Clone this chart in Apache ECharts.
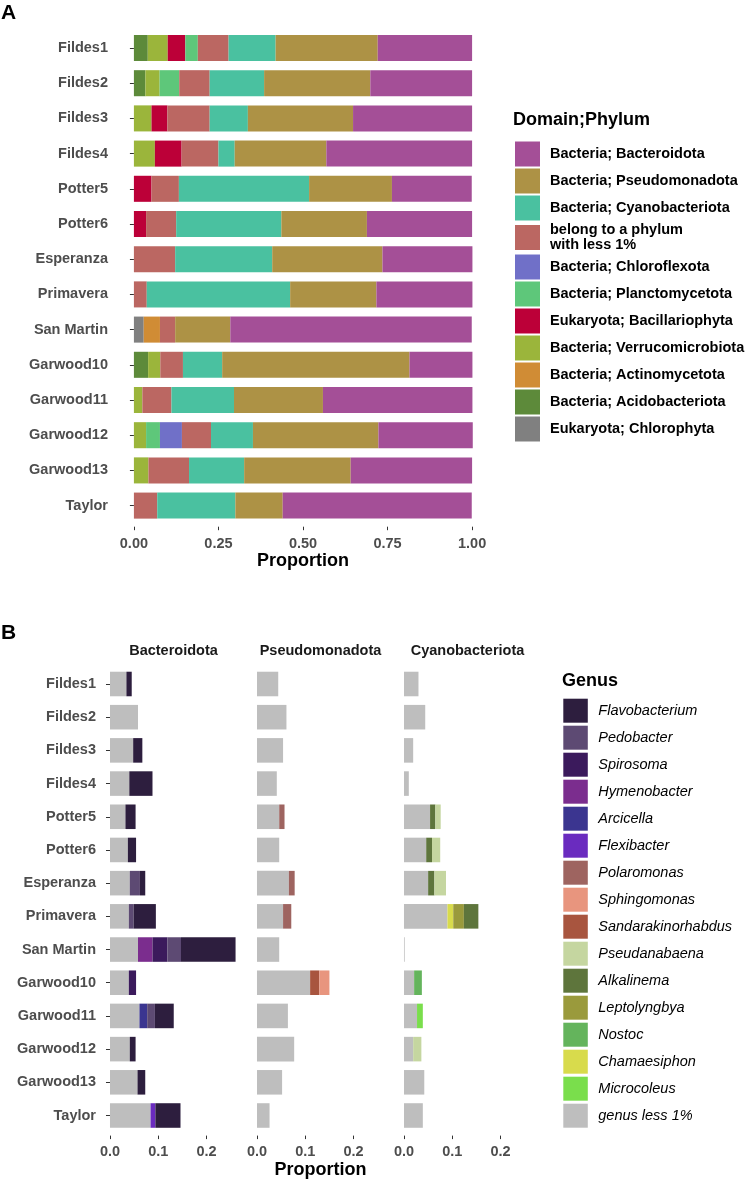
<!DOCTYPE html>
<html>
<head>
<meta charset="utf-8">
<script src="https://cdn.jsdelivr.net/npm/echarts@6/dist/echarts.min.js"></script>
<style>
html, body { margin: 0; padding: 0; background: #fff; }
#chart { width: 751px; height: 1181px; }
</style>
</head>
<body>
<div id="chart"></div>
<script>
const sites = ['Fildes1', 'Fildes2', 'Fildes3', 'Fildes4', 'Potter5', 'Potter6', 'Esperanza', 'Primavera', 'San Martin', 'Garwood10', 'Garwood11', 'Garwood12', 'Garwood13', 'Taylor']

// panel A (legend order, top to bottom)
const phyla = ['Bacteria; Bacteroidota', 'Bacteria; Pseudomonadota', 'Bacteria; Cyanobacteriota', 'belong to a phylum\nwith less 1%', 'Bacteria; Chloroflexota', 'Bacteria; Planctomycetota', 'Eukaryota; Bacillariophyta', 'Bacteria; Verrucomicrobiota', 'Bacteria; Actinomycetota', 'Bacteria; Acidobacteriota', 'Eukaryota; Chlorophyta']
const phylumColors = ['#a44f97', '#ad9245', '#4ac1a0', '#bb6762', '#7070c8', '#5ec77a', '#bc0038', '#9bb53b', '#d08c35', '#5d8a3a', '#808080']

const bacteroidota = [0.279, 0.301, 0.352, 0.431, 0.236, 0.311, 0.266, 0.284, 0.714, 0.186, 0.442, 0.279, 0.359, 0.559]
const pseudomonadota = [0.302, 0.314, 0.311, 0.271, 0.245, 0.253, 0.326, 0.255, 0.163, 0.554, 0.263, 0.371, 0.315, 0.140]
const cyanobacteriota = [0.139, 0.161, 0.113, 0.048, 0.385, 0.311, 0.287, 0.424, 0, 0.116, 0.185, 0.124, 0.163, 0.231]
const phylumLess1 = [0.091, 0.090, 0.125, 0.109, 0.081, 0.089, 0.122, 0.038, 0.045, 0.067, 0.086, 0.086, 0.120, 0.069]
const chloroflexota = [0, 0, 0, 0, 0, 0, 0, 0, 0, 0, 0, 0.065, 0, 0]
const planctomycetota = [0.037, 0.058, 0, 0, 0, 0, 0, 0, 0, 0, 0, 0.041, 0, 0]
const bacillariophyta = [0.052, 0, 0.047, 0.079, 0.052, 0.036, 0, 0, 0, 0, 0, 0, 0, 0]
const verrucomicrobiota = [0.059, 0.042, 0.052, 0.062, 0, 0, 0, 0, 0, 0.036, 0.025, 0.036, 0.043, 0]
const actinomycetota = [0, 0, 0, 0, 0, 0, 0, 0, 0.048, 0, 0, 0, 0, 0]
const acidobacteriota = [0.041, 0.034, 0, 0, 0, 0, 0, 0, 0, 0.042, 0, 0, 0, 0]
const chlorophyta = [0, 0, 0, 0, 0, 0, 0, 0, 0.029, 0, 0, 0, 0, 0]
const phylumData = [bacteroidota, pseudomonadota, cyanobacteriota, phylumLess1, chloroflexota, planctomycetota, bacillariophyta, verrucomicrobiota, actinomycetota, acidobacteriota, chlorophyta]

// panel B
const facets = ['Bacteroidota', 'Pseudomonadota', 'Cyanobacteriota']
const genera = ['Flavobacterium', 'Pedobacter', 'Spirosoma', 'Hymenobacter', 'Arcicella', 'Flexibacter', 'Polaromonas', 'Sphingomonas', 'Sandarakinorhabdus', 'Pseudanabaena', 'Alkalinema', 'Leptolyngbya', 'Nostoc', 'Chamaesiphon', 'Microcoleus', 'genus less 1%']
const genusColors = ['#2d1e3e', '#5d4a73', '#3b1a5c', '#7b2d8e', '#3b3590', '#6a2bbf', '#9e6460', '#e8957e', '#a8553f', '#c5d6a0', '#5e753c', '#9a9a3c', '#64b45c', '#d8db4c', '#7ade4c', '#bebebe']

const flavobacterium = [0.011, 0, 0.019, 0.048, 0.021, 0.017, 0.011, 0.046, 0.113, 0, 0.039, 0.012, 0.016, 0.052]
const pedobacter = [0, 0, 0, 0, 0, 0, 0.021, 0.010, 0.028, 0, 0.016, 0, 0, 0]
const spirosoma = [0, 0, 0, 0, 0, 0, 0, 0, 0.031, 0.015, 0, 0, 0, 0]
const hymenobacter = [0, 0, 0, 0, 0, 0, 0, 0, 0.030, 0, 0, 0, 0, 0]
const arcicella = [0, 0, 0, 0, 0, 0, 0, 0, 0, 0, 0.016, 0, 0, 0]
const flexibacter = [0, 0, 0, 0, 0, 0, 0, 0, 0, 0, 0, 0, 0, 0.010]
const polaromonas = [0, 0, 0, 0, 0.011, 0, 0.012, 0.017, 0, 0, 0, 0, 0, 0]
const sphingomonas = [0, 0, 0, 0, 0, 0, 0, 0, 0, 0.021, 0, 0, 0, 0]
const sandarakinorhabdus = [0, 0, 0, 0, 0, 0, 0, 0, 0, 0.019, 0, 0, 0, 0]
const pseudanabaena = [0, 0, 0, 0, 0.011, 0.017, 0.024, 0, 0, 0, 0, 0.017, 0, 0]
const alkalinema = [0, 0, 0, 0, 0.011, 0.012, 0.013, 0.030, 0, 0, 0, 0, 0, 0]
const leptolyngbya = [0, 0, 0, 0, 0, 0, 0, 0.022, 0, 0, 0, 0, 0, 0]
const nostoc = [0, 0, 0, 0, 0, 0, 0, 0, 0, 0.016, 0, 0, 0, 0]
const chamaesiphon = [0, 0, 0, 0, 0, 0, 0, 0.012, 0, 0, 0, 0, 0, 0]
const microcoleus = [0, 0, 0, 0, 0, 0, 0, 0, 0, 0, 0.012, 0, 0, 0]
const bacGenusLess1 = [0.034, 0.058, 0.048, 0.040, 0.032, 0.037, 0.041, 0.039, 0.058, 0.039, 0.061, 0.041, 0.057, 0.084]
const pseGenusLess1 = [0.044, 0.061, 0.054, 0.041, 0.046, 0.046, 0.066, 0.054, 0.046, 0.110, 0.064, 0.077, 0.052, 0.026]
const cyaGenusLess1 = [0.030, 0.044, 0.019, 0.010, 0.054, 0.046, 0.050, 0.090, 0.0015, 0.021, 0.027, 0.019, 0.042, 0.039]

const genusData = [flavobacterium, pedobacter, spirosoma, hymenobacter, arcicella, flexibacter, polaromonas, sphingomonas, sandarakinorhabdus, pseudanabaena, alkalinema, leptolyngbya, nostoc, chamaesiphon, microcoleus]
const genusFacet = [0, 0, 0, 0, 0, 0, 1, 1, 1, 2, 2, 2, 2, 2, 2]
const genusLess1 = [bacGenusLess1, pseGenusLess1, cyaGenusLess1]

const font = 'Liberation Sans, Arial, sans-serif'
const facetLeft = [104, 251, 398]
const facetWidth = 139

const myChart = echarts.init(document.getElementById('chart'))

const grid = [{ left: 117, top: 30.4, width: 372, height: 492.8 }]
facetLeft.forEach(l => grid.push({ left: l, top: 667.4, width: facetWidth, height: 464.7 }))

const axisLabelStyle = { fontFamily: font, fontWeight: 'bold', fontSize: 14.5, color: '#4d4d4d' }

const xAxis = [{
  type: 'value', gridIndex: 0, min: -0.05, max: 1.05, offset: 3.5,
  axisLine: { show: false }, splitLine: { show: false },
  axisTick: { show: true, length: 3.5, lineStyle: { color: '#333' }, customValues: [0, 0.25, 0.5, 0.75, 1] },
  axisLabel: Object.assign({ margin: 9.5, customValues: [0, 0.25, 0.5, 0.75, 1], formatter: v => v.toFixed(2) }, axisLabelStyle),
  name: 'Proportion', nameLocation: 'middle', nameGap: 25,
  nameTextStyle: { fontFamily: font, fontWeight: 'bold', fontSize: 18, color: '#000' }
}]
const yAxis = [{
  type: 'category', gridIndex: 0, data: sites, inverse: true,
  axisLine: { show: false },
  axisTick: { show: true, length: 4, alignWithLabel: true, lineStyle: { color: '#333' } },
  axisLabel: Object.assign({ margin: 9, interval: 0 }, axisLabelStyle)
}]
for (let f = 0; f < 3; f++) {
  xAxis.push({
    type: 'value', gridIndex: f + 1, min: -0.0124, max: 0.2754, offset: 3.5,
    axisLine: { show: false }, splitLine: { show: false },
    axisTick: { show: true, length: 3.5, lineStyle: { color: '#333' }, customValues: [0, 0.1, 0.2] },
    axisLabel: Object.assign({ margin: 9, customValues: [0, 0.1, 0.2], formatter: v => v.toFixed(1) }, axisLabelStyle),
    name: f === 1 ? 'Proportion' : '', nameLocation: 'middle', nameGap: 25.5,
    nameTextStyle: { fontFamily: font, fontWeight: 'bold', fontSize: 18, color: '#000' }
  })
  yAxis.push({
    type: 'category', gridIndex: f + 1, data: sites, inverse: true,
    axisLine: { show: false },
    axisTick: { show: f === 0, length: 4, alignWithLabel: true, lineStyle: { color: '#333' } },
    axisLabel: Object.assign({ show: f === 0, margin: 8, interval: 0 }, axisLabelStyle)
  })
}

const series = []
// ggplot stacks the last legend level first (leftmost)
for (let i = phyla.length - 1; i >= 0; i--) {
  series.push({
    type: 'bar', name: phyla[i], stack: 'phylum', xAxisIndex: 0, yAxisIndex: 0,
    barWidth: '74%', itemStyle: { color: phylumColors[i] }, data: phylumData[i]
  })
}
for (let f = 0; f < 3; f++) {
  series.push({
    type: 'bar', name: 'genus less 1%', stack: 'genus' + f, xAxisIndex: f + 1, yAxisIndex: f + 1,
    barWidth: '74%', itemStyle: { color: genusColors[15] }, data: genusLess1[f]
  })
  for (let g = genusData.length - 1; g >= 0; g--) {
    if (genusFacet[g] !== f) continue
    series.push({
      type: 'bar', name: genera[g], stack: 'genus' + f, xAxisIndex: f + 1, yAxisIndex: f + 1,
      barWidth: '74%', itemStyle: { color: genusColors[g] }, data: genusData[g]
    })
  }
}

const graphic = [
  { type: 'text', x: 1, y: 3, style: { text: 'A', font: 'bold 21px ' + font, fill: '#000' } },
  { type: 'text', x: 1, y: 623, style: { text: 'B', font: 'bold 21px ' + font, fill: '#000' } },
  { type: 'text', x: 513, y: 120, style: { text: 'Domain;Phylum', font: 'bold 18px ' + font, fill: '#000', verticalAlign: 'middle' } },
  { type: 'text', x: 562, y: 681, style: { text: 'Genus', font: 'bold 18px ' + font, fill: '#000', verticalAlign: 'middle' } }
]
facets.forEach((name, f) => {
  graphic.push({
    type: 'text', x: facetLeft[f] + facetWidth / 2, y: 651,
    style: { text: name, font: 'bold 14.5px ' + font, fill: '#1a1a1a', align: 'center', verticalAlign: 'middle' }
  })
})

const option = {
  animation: false,
  backgroundColor: '#fff',
  grid: grid,
  xAxis: xAxis,
  yAxis: yAxis,
  legend: [
    {
      data: phyla, orient: 'vertical', left: 515, top: 141.5, padding: 0,
      itemWidth: 25, itemHeight: 25, itemGap: 2, icon: 'rect', selectedMode: false,
      textStyle: { fontFamily: font, fontWeight: 'bold', fontSize: 14.5, lineHeight: 15, color: '#000', padding: [0, 0, 0, 5] }
    },
    {
      data: genera, orient: 'vertical', left: 563.3, top: 698.7, padding: 0,
      itemWidth: 24.5, itemHeight: 24, itemGap: 3, icon: 'rect', selectedMode: false,
      textStyle: { fontFamily: font, fontStyle: 'italic', fontSize: 14.5, color: '#000', padding: [0, 0, 0, 5.5] }
    }
  ],
  graphic: graphic,
  series: series
}
myChart.setOption(option)
</script>
</body>
</html>
